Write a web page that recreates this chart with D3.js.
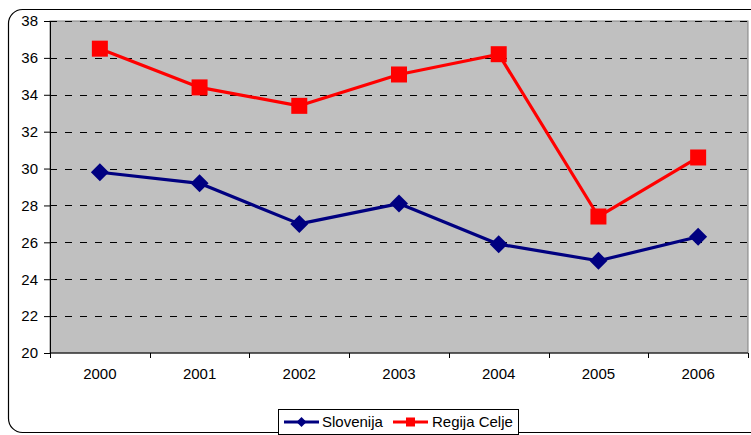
<!DOCTYPE html>
<html>
<head>
<meta charset="utf-8">
<script src="https://cdn.jsdelivr.net/npm/d3@7"></script>
<style>
  html, body { margin: 0; padding: 0; background: #fff; }
  svg { display: block; font-family: "Liberation Sans", Arial, sans-serif; }
</style>
</head>
<body>
<svg id="chart" width="751" height="435"></svg>
<script>
const years = ["2000", "2001", "2002", "2003", "2004", "2005", "2006"];
const slovenija = [29.8, 29.2, 27.0, 28.1, 25.9, 25.0, 26.3];
const regijaCelje = [36.5, 34.4, 33.4, 35.1, 36.2, 27.4, 30.6];
const yTicks = [20, 22, 24, 26, 28, 30, 32, 34, 36, 38];

const svg = d3.select("#chart");
const plot = { left: 50, top: 21, right: 748, bottom: 353 };

// Outer frame with rounded corners
svg.append("rect")
  .attr("x", 8.5).attr("y", 9.5)
  .attr("width", 780).attr("height", 423)
  .attr("rx", 14).attr("ry", 14)
  .attr("fill", "#fff").attr("stroke", "#000").attr("stroke-width", 1.2);

const x = d3.scaleBand().domain(years).range([plot.left, plot.right]);
const y = d3.scaleLinear().domain([20, 38]).range([plot.bottom, plot.top]);

// Plot background
svg.append("rect")
  .attr("x", plot.left).attr("y", plot.top)
  .attr("width", plot.right - plot.left).attr("height", plot.bottom - plot.top)
  .attr("fill", "#c0c0c0").attr("stroke", "#808080").attr("stroke-width", 1);

// Dashed gridlines
svg.append("g").selectAll("line")
  .data(yTicks.filter(d => d > 20))
  .join("line")
  .attr("x1", plot.left).attr("x2", plot.right)
  .attr("y1", d => Math.round(y(d)) + 0.5).attr("y2", d => Math.round(y(d)) + 0.5)
  .attr("stroke", "#000").attr("stroke-width", 1)
  .attr("stroke-dasharray", "7,8");

// Y axis
const yAxis = svg.append("g")
  .attr("transform", `translate(${plot.left},0)`)
  .call(d3.axisLeft(y).tickValues(yTicks).tickSize(6).tickPadding(6).tickSizeOuter(0));
yAxis.select(".domain").attr("stroke", "#000");
yAxis.selectAll("text").attr("font-size", 15).attr("fill", "#000")
  .attr("font-family", "Liberation Sans, Arial, sans-serif");

// X axis: ticks at category boundaries
const xg = svg.append("g").attr("transform", `translate(0,${plot.bottom})`);
xg.append("line")
  .attr("x1", plot.left).attr("x2", plot.right)
  .attr("stroke", "#000");
xg.selectAll("line.tick")
  .data(years.map(d => x(d)).concat([x(years[years.length - 1]) + x.bandwidth()]))
  .join("line")
  .attr("class", "tick")
  .attr("x1", d => Math.round(d) + 0.5).attr("x2", d => Math.round(d) + 0.5)
  .attr("y1", 0).attr("y2", 5)
  .attr("stroke", "#000");
xg.selectAll("text")
  .data(years)
  .join("text")
  .attr("x", d => x(d) + x.bandwidth() / 2)
  .attr("y", 26)
  .attr("text-anchor", "middle")
  .attr("font-size", 15)
  .attr("fill", "#000")
  .text(d => d);

const cx = d => x(d) + x.bandwidth() / 2;
const line = d3.line().x((d, i) => cx(years[i])).y(d => y(d));

const series = [
  { name: "Slovenija", values: slovenija, color: "#000080", marker: "diamond" },
  { name: "Regija Celje", values: regijaCelje, color: "#ff0000", marker: "square" }
];

function drawMarker(g, type, color, px, py, s) {
  if (type === "diamond") {
    g.append("path")
      .attr("d", `M${px},${py - s}L${px + s},${py}L${px},${py + s}L${px - s},${py}Z`)
      .attr("fill", color);
  } else {
    g.append("rect")
      .attr("x", px - s).attr("y", py - s)
      .attr("width", 2 * s).attr("height", 2 * s)
      .attr("fill", color);
  }
}

series.forEach(s => {
  const g = svg.append("g");
  g.append("path")
    .attr("d", line(s.values))
    .attr("fill", "none")
    .attr("stroke", s.color)
    .attr("stroke-width", 3.2)
    .attr("stroke-linejoin", "round");
  s.values.forEach((v, i) => {
    drawMarker(g, s.marker, s.color, cx(years[i]), y(v), s.marker === "diamond" ? 9 : 8);
  });
});

// Legend
const lg = svg.append("g");
lg.append("rect")
  .attr("x", 278.5).attr("y", 409.5)
  .attr("width", 240).attr("height", 25)
  .attr("fill", "#fff").attr("stroke", "#000").attr("stroke-width", 1);
const legendItems = [
  { s: series[0], x0: 284, tx: 322 },
  { s: series[1], x0: 393, tx: 432 }
];
legendItems.forEach(it => {
  lg.append("line")
    .attr("x1", it.x0).attr("x2", it.x0 + 35)
    .attr("y1", 422).attr("y2", 422)
    .attr("stroke", it.s.color).attr("stroke-width", 3);
  drawMarker(lg, it.s.marker, it.s.color, it.x0 + 17.5, 422, it.s.marker === "diamond" ? 5 : 4.5);
  lg.append("text")
    .attr("x", it.tx).attr("y", 427)
    .attr("font-size", 15)
    .attr("fill", "#000")
    .text(it.s.name);
});
</script>
</body>
</html>
